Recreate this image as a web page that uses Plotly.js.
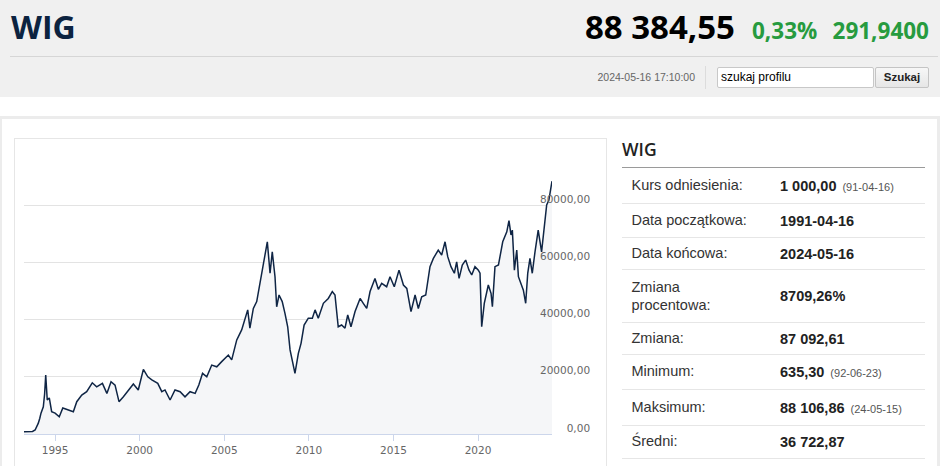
<!DOCTYPE html>
<html>
<head>
<meta charset="utf-8">
<script src="https://cdn.plot.ly/plotly-3.0.1.min.js"></script>
<style>
  html, body { margin:0; padding:0; width:948px; height:466px; overflow:hidden; background:#fff; }
  body { position:relative; font-family:"Liberation Sans", Arial, sans-serif; }
  .abs { position:absolute; white-space:nowrap; }
  #hdr { left:0; top:0; width:940px; height:97px; background:#f0f0f0; }
  #hline { left:10px; top:56px; width:928px; height:1px; background:#d6d6d6; }
  #title { left:11px; top:4.8px; font-family:"Open Sans", sans-serif; font-weight:700; font-size:32px; color:#0c2340; line-height:normal; }
  #price { right:213px; top:3.7px; font-family:"Open Sans", sans-serif; font-weight:700; font-size:33px; color:#000; line-height:normal; }
  #pct { left:752px; top:15px; font-family:"Open Sans", sans-serif; font-weight:700; font-size:22.5px; color:#279b3f; line-height:normal; }
  #chg { right:19px; top:15px; font-family:"Open Sans", sans-serif; font-weight:700; font-size:22.5px; color:#279b3f; line-height:normal; }
  #dt { right:253px; top:71px; font-size:10.5px; color:#666; line-height:normal; }
  #vsep { left:705px; top:66px; width:1px; height:23px; background:#dcdcdc; }
  #inp { left:717px; top:67px; width:152px; height:19px; border:1px solid #c8c8c8; border-radius:2px; background:#fff; font-size:12px; color:#000; line-height:19px; padding-left:3px; box-sizing:content-box; }
  #btn { left:875px; top:67px; width:52px; height:19px; border:1px solid #c4c4c4; border-radius:2px; background:linear-gradient(#f7f7f7,#e6e6e6); font-size:11.5px; font-weight:700; color:#222; line-height:19px; text-align:center; }
  #cont { left:0; top:116px; width:935px; height:400px; border-top:3px solid #ececec; border-left:2px solid #ececec; border-right:3px solid #ececec; }
  #cbox { left:14px; top:138px; width:591px; height:400px; border:1px solid #e6e6e6; }
  #chart { left:15px; top:139px; width:590px; height:327px; }
  #th { left:622px; top:137.3px; font-family:"Open Sans", sans-serif; font-weight:600; font-size:17.5px; color:#222; line-height:normal; }
  #thline { left:622px; top:167px; width:303px; height:1px; background:#9a9a9a; }
  .row { position:absolute; left:622px; width:303px; border-bottom:1px solid #e6e6e6; }
  .lab { position:absolute; left:9.5px; top:50%; transform:translateY(-50%); font-size:14.5px; color:#333; line-height:17.5px; }
  .val { position:absolute; left:158px; top:50%; transform:translateY(-50%); font-size:14.5px; font-weight:700; color:#222; white-space:nowrap; }
  .val small { font-size:11px; font-weight:400; color:#555; margin-left:6px; }
</style>
</head>
<body>
<div id="hdr" class="abs"></div>
<div id="hline" class="abs"></div>
<div id="title" class="abs">WIG</div>
<div id="price" class="abs">88 384,55</div>
<div id="pct" class="abs">0,33%</div>
<div id="chg" class="abs">291,9400</div>
<div id="dt" class="abs">2024-05-16 17:10:00</div>
<div id="vsep" class="abs"></div>
<div id="inp" class="abs">szukaj profilu</div>
<div id="btn" class="abs">Szukaj</div>
<div id="cont" class="abs"></div>
<div id="cbox" class="abs"></div>
<div id="chart" class="abs"></div>
<div id="th" class="abs">WIG</div>
<div id="thline" class="abs"></div>
<div id="rows"></div>
<script>
// ---- data ----
const dates = [
 '1993-03-01','1993-06-15','1993-09-01','1993-10-27','1993-12-10','1994-01-04','1994-02-05','1994-03-03',
 '1994-04-22','1994-05-20','1994-06-13','1994-07-01','1994-07-16','1994-08-29','1994-10-19','1995-01-01',
 '1995-04-01','1995-06-17','1995-10-16','1996-01-30','1996-04-13','1996-07-30','1996-11-13','1997-03-14',
 '1997-06-17','1997-10-19','1998-01-23','1998-04-23','1998-07-19','1998-10-12','1999-01-15','1999-05-01',
 '1999-08-18','1999-12-02','2000-03-21','2000-06-25','2000-09-20','2001-01-26','2001-04-23','2001-07-01',
 '2001-10-19','2002-02-02','2002-05-23','2002-09-06','2002-12-24','2003-04-13','2003-07-01','2003-09-20',
 '2003-12-20','2004-04-05','2004-07-23','2004-11-06','2005-03-29','2005-06-10','2005-09-27','2006-01-11',
 '2006-03-10','2006-05-22','2006-07-08','2006-09-20','2006-12-02','2007-02-14','2007-04-23','2007-06-13',
 '2007-07-19','2007-09-16','2007-11-03','2008-01-01','2008-02-06','2008-03-28','2008-06-05','2008-08-03',
 '2008-10-01','2008-11-21','2009-01-08','2009-03-07','2009-05-19','2009-07-16','2009-09-20','2009-12-20',
 '2010-03-17','2010-05-15','2010-07-23','2010-11-10','2011-02-24','2011-05-22','2011-07-19','2011-09-27',
 '2011-12-09','2012-02-20','2012-04-19','2012-06-28','2012-09-24','2013-01-11','2013-03-21','2013-06-03',
 '2013-08-14','2013-11-28','2014-02-09','2014-04-22','2014-08-07','2014-10-19','2015-01-19','2015-05-01',
 '2015-08-04','2015-10-16','2016-01-15','2016-04-12','2016-06-21','2016-09-02','2016-11-28','2017-02-28',
 '2017-05-12','2017-08-25','2017-11-07','2018-01-19','2018-03-18','2018-05-27','2018-08-08','2018-09-27',
 '2018-11-18','2019-01-26','2019-04-09','2019-06-21','2019-08-18','2019-10-27','2020-01-08','2020-02-13',
 '2020-03-20','2020-05-15','2020-08-10','2020-10-08','2020-11-06','2021-01-01','2021-03-17','2021-06-17',
 '2021-09-13','2021-10-30','2021-12-13','2022-01-11','2022-02-24','2022-04-16','2022-05-22','2022-07-19',
 '2022-09-06','2022-10-26','2022-12-09','2023-01-26','2023-03-17','2023-05-15','2023-07-23','2023-10-04',
 '2023-12-16','2024-01-22','2024-03-10','2024-05-08','2024-05-16'
];
const values = [
 800,750,900,1400,2600,3800,5500,7300,
 9500,14000,20600,14500,11900,12600,7800,7300,
 6000,9100,8400,7800,11300,13600,14800,17900,
 16500,17700,14200,18300,17100,11300,13000,15400,
 17500,15400,22600,20000,18900,17700,14800,15400,
 11900,15400,14800,13000,14800,14200,17100,21200,
 20000,24100,23500,25300,27600,25900,32900,36400,
 39300,43400,37000,43900,46300,53200,58500,64300,
 67200,56200,63700,55000,44500,48600,46300,42200,
 37500,29400,25900,21200,28200,31700,38100,40500,
 40500,43400,40500,45700,47400,49800,48600,37500,
 38100,37000,41600,37500,42800,47400,45700,43900,
 49800,54400,50600,52700,51500,55000,51500,57300,
 52100,50900,42800,48600,43900,48000,48600,58500,
 61400,64300,62600,67200,62000,58500,56200,60200,
 54400,59100,60800,57300,55600,58500,57300,56200,
 37500,45700,52100,49200,44500,58500,59100,67200,
 70700,74600,69600,71300,57300,64300,55000,52700,
 50300,45700,56200,61400,56200,63700,71300,63700,
 74800,80100,81800,88200,88400
];
const xTickVals = ['1995-01-01','2000-01-01','2005-01-01','2010-01-01','2015-01-01','2020-01-01'];
const xTickText = ['1995','2000','2005','2010','2015','2020'];
const yTickVals = [0,20000,40000,60000,80000,100000];
const yTickText = ['0,00','20000,00','40000,00','60000,00','80000,00',''];

// ---- table (right panel) ----
const rowLabels = ['Kurs odniesienia:','Data początkowa:','Data końcowa:','Zmiana<br>procentowa:','Zmiana:','Minimum:','Maksimum:','Średni:'];
const rowValues = ['1 000,00','1991-04-16','2024-05-16','8709,26%','87 092,61','635,30','88 106,86','36 722,87'];
const rowNotes  = ['(91-04-16)','','','','','(92-06-23)','(24-05-15)',''];
const rowLines = [167,203,237,269,322,354,389,425,458];
const rowsEl = document.getElementById('rows');
for (let i = 0; i < rowLabels.length; i++) {
  const r = document.createElement('div');
  r.className = 'row';
  r.style.top = (rowLines[i] + 1) + 'px';
  r.style.height = (rowLines[i+1] - rowLines[i] - 1) + 'px';
  r.innerHTML = '<div class="lab">' + rowLabels[i] + '</div><div class="val">' + rowValues[i] +
    (rowNotes[i] ? '<small>' + rowNotes[i] + '</small>' : '') + '</div>';
  rowsEl.appendChild(r);
}

// ---- chart ----
const tickFont = {family:'DejaVu Sans, sans-serif', size:10.5, color:'#666666'};
const trace = {
  x: dates, y: values, type:'scatter', mode:'lines',
  line:{color:'#0f2545', width:1.5},
  fill:'tozeroy', fillcolor:'#f5f6f8',
  hoverinfo:'skip'
};
const layout = {
  width:590, height:327,
  margin:{l:9, r:5, t:9, b:32},
  paper_bgcolor:'#ffffff', plot_bgcolor:'#ffffff',
  showlegend:false,
  xaxis:{
    type:'date', domain:[0, 528/576],
    range:['1993-03-01','2024-05-16'],
    tickmode:'array', tickvals:xTickVals, ticktext:xTickText,
    ticks:'outside', ticklen:6, tickcolor:'#ccd6eb', tickwidth:1,
    showline:true, linecolor:'#ccd6eb', linewidth:1,
    showgrid:false, zeroline:false, tickfont:tickFont, fixedrange:true
  },
  yaxis:{
    range:[0,100000], anchor:'free', position:0.9828, side:'left',
    tickmode:'array', tickvals:yTickVals, ticktext:yTickText,
    ticks:'', showline:false, zeroline:false,
    showgrid:true, gridcolor:'#e3e3e3', gridwidth:1,
    tickfont:tickFont, ticklabelshift:-6, fixedrange:true
  }
};
Plotly.newPlot('chart', [trace], layout, {displayModeBar:false, staticPlot:true});
</script>
</body>
</html>
